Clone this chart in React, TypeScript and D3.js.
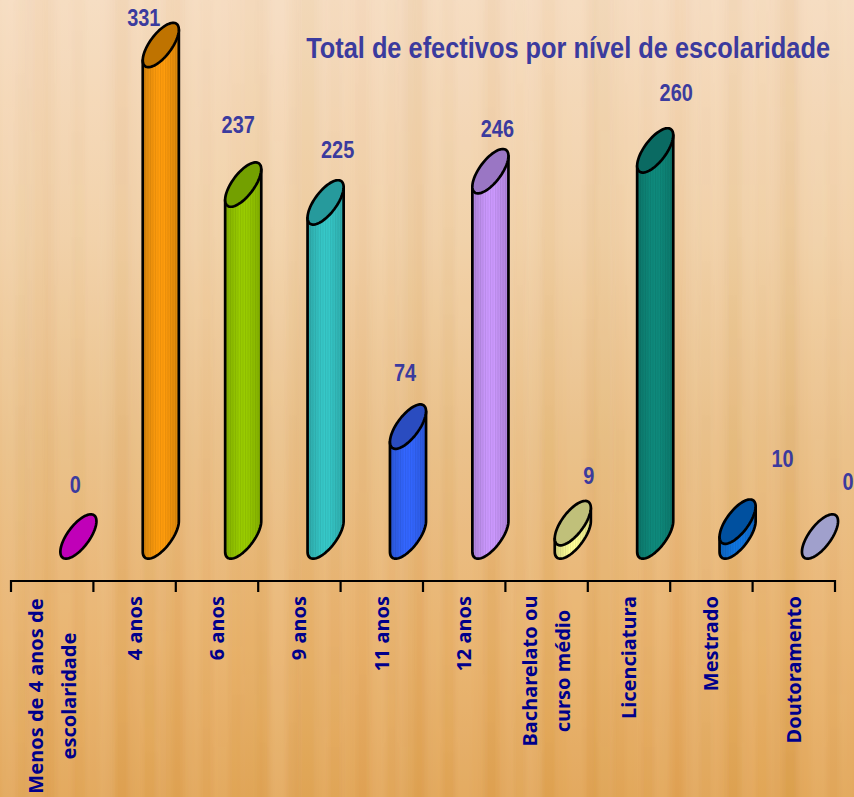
import React from "react";
import * as d3 from "d3";

const categories = [
  ["Menos de 4 anos de", "escolaridade"], ["4 anos"], ["6 anos"], ["9 anos"], ["11 anos"], ["12 anos"],
  ["Bacharelato ou", "curso médio"], ["Licenciatura"], ["Mestrado"], ["Doutoramento"],
];
const values = [0, 331, 237, 225, 74, 246, 9, 260, 10, 0];
const sideColors = ["#c000b8", "#ff9c0c", "#99cc00", "#36c8c8", "#3366ff", "#cc99ff", "#ffff99", "#0e8a7c", "#0f75e0", "#a0a0cc"];
const topColors = ["#c000b8", "#bf7300", "#73a000", "#269a9c", "#2a4cc0", "#9a76c4", "#c0c07a", "#0a6a62", "#00509f", "#a0a0cc"];
const title = "Total de efectivos por nível de escolaridade";
// hand-placed label offsets of the source (dx from the bar centre, dy above the top ellipse)
const labelDx = [-3, -17, -5, 12, -3, 7, 16, 21, 45, 28];
const labelDy = [44, 19, 52, 44, 46, 34, 39, 49, 55, 47];
// vertical wood-grain tints
const grain = [0.10, -0.06, 0.04, 0.08, -0.05, 0.03, -0.08, 0.06, 0.02, -0.04, 0.09, -0.07, 0.05, -0.02, 0.07, -0.09, 0.03, 0.06, -0.05, 0.08, -0.03, 0.04, -0.07, 0.02, 0.06, -0.06, 0.09, -0.04, 0.03, -0.08, 0.05, 0.07];
const grainFine = [0.05, -0.07, 0.08, -0.03, 0.06, -0.08, 0.02, 0.09, -0.05, 0.04, -0.09, 0.07, -0.02, 0.05, -0.06, 0.08, -0.04, 0.03, -0.07, 0.09, -0.05, 0.02, 0.06, -0.08, 0.04, -0.03, 0.07, -0.06, 0.08, -0.02, 0.05, -0.09, 0.06, 0.03, -0.05, 0.07, -0.04, 0.09, -0.07, 0.02, 0.05, -0.06, 0.08, -0.03, 0.04, -0.08, 0.06, -0.02, 0.09, -0.05, 0.03, -0.07, 0.07, -0.04, 0.05, -0.09, 0.02, 0.08, -0.06, 0.04];
const bgStops: [number, string][] = [[0, "#f6dcc0"], [0.3, "#f1d0a6"], [0.55, "#eabf86"], [0.8, "#e9b26c"], [1, "#e2a556"]];

const W = 854, H = 797;
const AXIS_Y = 581, AXIS_L = 11, AXIS_R = 835, TICK = 11;
const x = d3.scaleBand<number>().domain(d3.range(values.length)).range([AXIS_L, AXIS_R]);
const y = d3.scaleLinear().domain([0, 331]).range([536.5, 45]);
const A = 26.4, B = 11, TH = (53.4 * Math.PI) / 180;
const pt = (t: number): [number, number] => [
  A * Math.cos(t) * Math.cos(TH) - B * Math.sin(t) * Math.sin(TH),
  -(A * Math.cos(t) * Math.sin(TH) + B * Math.sin(t) * Math.cos(TH)),
];
const tRight = Math.atan2(-B * Math.sin(TH), A * Math.cos(TH));
const line = d3.line();
const ellipsePath = (cx: number, cy: number) =>
  line(d3.range(0, 73).map((i) => { const p = pt((i / 72) * 2 * Math.PI); return [cx + p[0], cy + p[1]] as [number, number]; })) + "Z";
const bodyPath = (cx: number, cyTop: number, cyBase: number) => {
  const arc: [number, number][] = d3.range(0, 41).map((i) => {
    const p = pt(tRight - (i / 40) * Math.PI);
    return [cx + p[0], cyBase + p[1]];
  });
  const r = pt(tRight), l = pt(tRight - Math.PI);
  return line([[cx + r[0], cyTop + r[1]], ...arc, [cx + l[0], cyTop + l[1]]]) + "Z";
};

const FONT = "'Noto Sans', sans-serif";
const NARROW = "'Liberation Sans', sans-serif";
const STROKE = 2.7;

export default function App() {
  return (
    <svg width={W} height={H} viewBox={`0 0 ${W} ${H}`} style={{ position: "fixed", left: 0, top: 0, display: "block" }}>
      <defs>
        <linearGradient id="bg" x1="0" y1="0" x2="0" y2="1">
          {bgStops.map(([o, c]) => <stop key={o} offset={o} stopColor={c} />)}
        </linearGradient>
        <linearGradient id="lowFade" x1="0" y1="0" x2="0" y2="1">
          <stop offset={0} stopColor="#fff" stopOpacity={0.35} />
          <stop offset={1} stopColor="#fff" stopOpacity={1} />
        </linearGradient>
        <mask id="lowMask"><rect width={W} height={H} fill="url(#lowFade)" /></mask>
        <filter id="soft" x="-5%" y="0" width="110%" height="100%">
          <feGaussianBlur stdDeviation="5 0" />
        </filter>
        <filter id="softFine" x="-5%" y="0" width="110%" height="100%">
          <feGaussianBlur stdDeviation="2 0" />
        </filter>
        {sideColors.map((c, i) => {
          const dark = d3.color(c)!.darker(0.45).formatHex();
          return (
            <linearGradient key={i} id={`side${i}`} x1="0" y1="0" x2="1" y2="0">
              <stop offset={0} stopColor={dark} />
              <stop offset={0.4} stopColor={c} />
              <stop offset={0.6} stopColor={c} />
              <stop offset={1} stopColor={dark} />
            </linearGradient>
          );
        })}
        <pattern id="stripes" width="2.5" height="10" patternUnits="userSpaceOnUse">
          <rect width="1" height="10" fill="#000" opacity="0.08" />
        </pattern>
      </defs>
      <rect width={W} height={H} fill="url(#bg)" />
      <g filter="url(#soft)">
        {grain.map((g, i) => (
          <rect key={i} x={(i * W) / grain.length} y={0} width={W / grain.length + 1} height={H}
            fill={g > 0 ? "#fff" : "#a86a20"} opacity={Math.abs(g) * 0.6} />
        ))}
      </g>
      <g filter="url(#softFine)" mask="url(#lowMask)">
        {grainFine.map((g, i) => (
          <rect key={i} x={(i * W) / grainFine.length} y={0} width={W / grainFine.length + 1} height={H}
            fill={g > 0 ? "#fff" : "#a86a20"} opacity={Math.abs(g) * 0.6} />
        ))}
      </g>
      <text transform="translate(830,58) scale(0.875,1)" textAnchor="end" fontFamily={NARROW}
        fontWeight="bold" fontSize={29} fill="#3b3b9e">{title}</text>

      {values.map((v, i) => {
        const cx = x(i)! + 67.4;
        const cyTop = y(v), cyBase = y(0);
        return (
          <g key={i}>
            {v > 0 && (
              <>
                <path d={bodyPath(cx, cyTop, cyBase)} fill={`url(#side${i})`} />
                <path d={bodyPath(cx, cyTop, cyBase)} fill="url(#stripes)" stroke="#000" strokeWidth={STROKE} strokeLinejoin="round" />
              </>
            )}
            <path d={ellipsePath(cx, cyTop)} fill={topColors[i]} stroke="#000" strokeWidth={STROKE} />
            <text transform={`translate(${cx + labelDx[i]},${cyTop - labelDy[i]}) scale(0.83,1)`} textAnchor="middle"
              fontFamily={NARROW} fontWeight="bold" fontSize={24} fill="#3b3b9e">{v}</text>
          </g>
        );
      })}

      <path d={`M${AXIS_L},${AXIS_Y + TICK}V${AXIS_Y}H${AXIS_R}V${AXIS_Y + TICK}`} fill="none" stroke="#000" strokeWidth={2.2} />
      {x.domain().slice(1).map((i) => (
        <line key={i} x1={x(i)} x2={x(i)} y1={AXIS_Y} y2={AXIS_Y + TICK} stroke="#000" strokeWidth={2.2} />
      ))}

      {categories.map((lines, i) => {
        const c = x(i)! + x.bandwidth() / 2;
        const offsets = lines.length === 2 ? [-16.5, 16.5] : [0];
        return lines.map((t, j) => {
          const two = lines.length === 2;
          const yy = two ? (i === 0 ? 696 : 671) : 596;
          return (
            <text key={j} transform={`translate(${c + offsets[j] + 7},${yy}) rotate(-90)`} textAnchor={two ? "middle" : "end"}
              fontFamily={FONT} fontWeight="bold" fontSize={20} fill="#00008b">{t}</text>
          );
        });
      })}
    </svg>
  );
}
